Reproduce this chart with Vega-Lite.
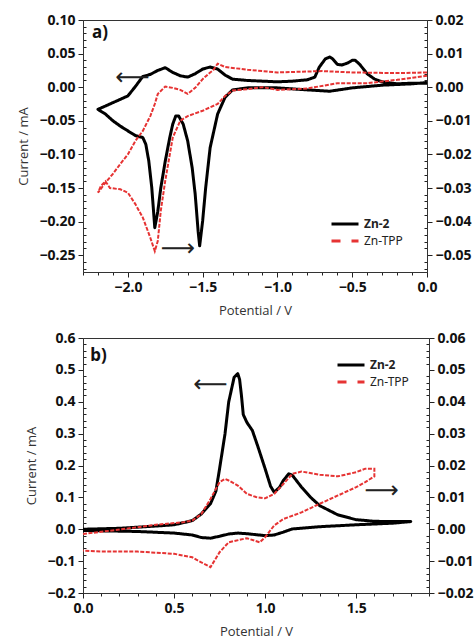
{
  "$schema": "https://vega.github.io/schema/vega-lite/v6.json",
  "padding": {"top": 12, "left": 17, "right": 0, "bottom": 0},
  "background": "white",
  "datasets": {
    "cv": [
      {"panel":"a","series":"Zn-2","order":1,"potential":0.00,"current":0.006},
      {"panel":"a","series":"Zn-2","order":2,"potential":-0.10,"current":0.006},
      {"panel":"a","series":"Zn-2","order":3,"potential":-0.20,"current":0.005},
      {"panel":"a","series":"Zn-2","order":4,"potential":-0.30,"current":0.008},
      {"panel":"a","series":"Zn-2","order":5,"potential":-0.35,"current":0.012},
      {"panel":"a","series":"Zn-2","order":6,"potential":-0.40,"current":0.020},
      {"panel":"a","series":"Zn-2","order":7,"potential":-0.45,"current":0.034},
      {"panel":"a","series":"Zn-2","order":8,"potential":-0.48,"current":0.040},
      {"panel":"a","series":"Zn-2","order":9,"potential":-0.50,"current":0.040},
      {"panel":"a","series":"Zn-2","order":10,"potential":-0.53,"current":0.036},
      {"panel":"a","series":"Zn-2","order":11,"potential":-0.57,"current":0.033},
      {"panel":"a","series":"Zn-2","order":12,"potential":-0.60,"current":0.034},
      {"panel":"a","series":"Zn-2","order":13,"potential":-0.63,"current":0.042},
      {"panel":"a","series":"Zn-2","order":14,"potential":-0.65,"current":0.045},
      {"panel":"a","series":"Zn-2","order":15,"potential":-0.68,"current":0.042},
      {"panel":"a","series":"Zn-2","order":16,"potential":-0.72,"current":0.030},
      {"panel":"a","series":"Zn-2","order":17,"potential":-0.75,"current":0.015},
      {"panel":"a","series":"Zn-2","order":18,"potential":-0.80,"current":0.011},
      {"panel":"a","series":"Zn-2","order":19,"potential":-0.90,"current":0.009},
      {"panel":"a","series":"Zn-2","order":20,"potential":-1.00,"current":0.008},
      {"panel":"a","series":"Zn-2","order":21,"potential":-1.10,"current":0.009},
      {"panel":"a","series":"Zn-2","order":22,"potential":-1.20,"current":0.010},
      {"panel":"a","series":"Zn-2","order":23,"potential":-1.30,"current":0.012},
      {"panel":"a","series":"Zn-2","order":24,"potential":-1.35,"current":0.018},
      {"panel":"a","series":"Zn-2","order":25,"potential":-1.40,"current":0.027},
      {"panel":"a","series":"Zn-2","order":26,"potential":-1.45,"current":0.030},
      {"panel":"a","series":"Zn-2","order":27,"potential":-1.50,"current":0.027},
      {"panel":"a","series":"Zn-2","order":28,"potential":-1.55,"current":0.020},
      {"panel":"a","series":"Zn-2","order":29,"potential":-1.60,"current":0.015},
      {"panel":"a","series":"Zn-2","order":30,"potential":-1.65,"current":0.017},
      {"panel":"a","series":"Zn-2","order":31,"potential":-1.70,"current":0.022},
      {"panel":"a","series":"Zn-2","order":32,"potential":-1.75,"current":0.029},
      {"panel":"a","series":"Zn-2","order":33,"potential":-1.80,"current":0.025},
      {"panel":"a","series":"Zn-2","order":34,"potential":-1.85,"current":0.019},
      {"panel":"a","series":"Zn-2","order":35,"potential":-1.90,"current":0.016},
      {"panel":"a","series":"Zn-2","order":36,"potential":-1.95,"current":0.001},
      {"panel":"a","series":"Zn-2","order":37,"potential":-2.00,"current":-0.013},
      {"panel":"a","series":"Zn-2","order":38,"potential":-2.10,"current":-0.023},
      {"panel":"a","series":"Zn-2","order":39,"potential":-2.15,"current":-0.028},
      {"panel":"a","series":"Zn-2","order":40,"potential":-2.20,"current":-0.033},
      {"panel":"a","series":"Zn-2","order":41,"potential":-2.15,"current":-0.040},
      {"panel":"a","series":"Zn-2","order":42,"potential":-2.10,"current":-0.050},
      {"panel":"a","series":"Zn-2","order":43,"potential":-2.05,"current":-0.058},
      {"panel":"a","series":"Zn-2","order":44,"potential":-2.00,"current":-0.065},
      {"panel":"a","series":"Zn-2","order":45,"potential":-1.95,"current":-0.072},
      {"panel":"a","series":"Zn-2","order":46,"potential":-1.90,"current":-0.075},
      {"panel":"a","series":"Zn-2","order":47,"potential":-1.88,"current":-0.085},
      {"panel":"a","series":"Zn-2","order":48,"potential":-1.86,"current":-0.110},
      {"panel":"a","series":"Zn-2","order":49,"potential":-1.84,"current":-0.150},
      {"panel":"a","series":"Zn-2","order":50,"potential":-1.82,"current":-0.209},
      {"panel":"a","series":"Zn-2","order":51,"potential":-1.80,"current":-0.185},
      {"panel":"a","series":"Zn-2","order":52,"potential":-1.78,"current":-0.150},
      {"panel":"a","series":"Zn-2","order":53,"potential":-1.75,"current":-0.110},
      {"panel":"a","series":"Zn-2","order":54,"potential":-1.72,"current":-0.075},
      {"panel":"a","series":"Zn-2","order":55,"potential":-1.70,"current":-0.055},
      {"panel":"a","series":"Zn-2","order":56,"potential":-1.68,"current":-0.043},
      {"panel":"a","series":"Zn-2","order":57,"potential":-1.66,"current":-0.043},
      {"panel":"a","series":"Zn-2","order":58,"potential":-1.63,"current":-0.055},
      {"panel":"a","series":"Zn-2","order":59,"potential":-1.60,"current":-0.080},
      {"panel":"a","series":"Zn-2","order":60,"potential":-1.57,"current":-0.120},
      {"panel":"a","series":"Zn-2","order":61,"potential":-1.55,"current":-0.159},
      {"panel":"a","series":"Zn-2","order":62,"potential":-1.53,"current":-0.215},
      {"panel":"a","series":"Zn-2","order":63,"potential":-1.52,"current":-0.236},
      {"panel":"a","series":"Zn-2","order":64,"potential":-1.50,"current":-0.199},
      {"panel":"a","series":"Zn-2","order":65,"potential":-1.48,"current":-0.150},
      {"panel":"a","series":"Zn-2","order":66,"potential":-1.45,"current":-0.090},
      {"panel":"a","series":"Zn-2","order":67,"potential":-1.40,"current":-0.040},
      {"panel":"a","series":"Zn-2","order":68,"potential":-1.35,"current":-0.015},
      {"panel":"a","series":"Zn-2","order":69,"potential":-1.30,"current":-0.004},
      {"panel":"a","series":"Zn-2","order":70,"potential":-1.20,"current":-0.001},
      {"panel":"a","series":"Zn-2","order":71,"potential":-1.00,"current":-0.001},
      {"panel":"a","series":"Zn-2","order":72,"potential":-0.80,"current":-0.004},
      {"panel":"a","series":"Zn-2","order":73,"potential":-0.65,"current":-0.006},
      {"panel":"a","series":"Zn-2","order":74,"potential":-0.50,"current":-0.001},
      {"panel":"a","series":"Zn-2","order":75,"potential":-0.30,"current":0.003},
      {"panel":"a","series":"Zn-2","order":76,"potential":-0.10,"current":0.005},
      {"panel":"a","series":"Zn-2","order":77,"potential":0.00,"current":0.007},

      {"panel":"a","series":"Zn-TPP","order":1,"potential":0.00,"current":0.0044},
      {"panel":"a","series":"Zn-TPP","order":2,"potential":-0.20,"current":0.0042},
      {"panel":"a","series":"Zn-TPP","order":3,"potential":-0.50,"current":0.0044},
      {"panel":"a","series":"Zn-TPP","order":4,"potential":-0.70,"current":0.0048},
      {"panel":"a","series":"Zn-TPP","order":5,"potential":-1.00,"current":0.0044},
      {"panel":"a","series":"Zn-TPP","order":6,"potential":-1.20,"current":0.0052},
      {"panel":"a","series":"Zn-TPP","order":7,"potential":-1.35,"current":0.0060},
      {"panel":"a","series":"Zn-TPP","order":8,"potential":-1.40,"current":0.0070},
      {"panel":"a","series":"Zn-TPP","order":9,"potential":-1.43,"current":0.0050},
      {"panel":"a","series":"Zn-TPP","order":10,"potential":-1.45,"current":0.0044},
      {"panel":"a","series":"Zn-TPP","order":11,"potential":-1.50,"current":0.0024},
      {"panel":"a","series":"Zn-TPP","order":12,"potential":-1.55,"current":-0.0002},
      {"panel":"a","series":"Zn-TPP","order":13,"potential":-1.60,"current":-0.0020},
      {"panel":"a","series":"Zn-TPP","order":14,"potential":-1.65,"current":-0.0008},
      {"panel":"a","series":"Zn-TPP","order":15,"potential":-1.70,"current":-0.0002},
      {"panel":"a","series":"Zn-TPP","order":16,"potential":-1.75,"current":0.0002},
      {"panel":"a","series":"Zn-TPP","order":17,"potential":-1.80,"current":-0.0020},
      {"panel":"a","series":"Zn-TPP","order":18,"potential":-1.82,"current":-0.0050},
      {"panel":"a","series":"Zn-TPP","order":19,"potential":-1.85,"current":-0.0086},
      {"panel":"a","series":"Zn-TPP","order":20,"potential":-1.90,"current":-0.0130},
      {"panel":"a","series":"Zn-TPP","order":21,"potential":-1.95,"current":-0.0160},
      {"panel":"a","series":"Zn-TPP","order":22,"potential":-2.00,"current":-0.0200},
      {"panel":"a","series":"Zn-TPP","order":23,"potential":-2.05,"current":-0.0228},
      {"panel":"a","series":"Zn-TPP","order":24,"potential":-2.10,"current":-0.0258},
      {"panel":"a","series":"Zn-TPP","order":25,"potential":-2.15,"current":-0.0284},
      {"panel":"a","series":"Zn-TPP","order":26,"potential":-2.20,"current":-0.0314},
      {"panel":"a","series":"Zn-TPP","order":27,"potential":-2.18,"current":-0.0294},
      {"panel":"a","series":"Zn-TPP","order":28,"potential":-2.15,"current":-0.0280},
      {"panel":"a","series":"Zn-TPP","order":29,"potential":-2.12,"current":-0.0300},
      {"panel":"a","series":"Zn-TPP","order":30,"potential":-2.05,"current":-0.0304},
      {"panel":"a","series":"Zn-TPP","order":31,"potential":-2.00,"current":-0.0314},
      {"panel":"a","series":"Zn-TPP","order":32,"potential":-1.95,"current":-0.0348},
      {"panel":"a","series":"Zn-TPP","order":33,"potential":-1.90,"current":-0.0388},
      {"panel":"a","series":"Zn-TPP","order":34,"potential":-1.85,"current":-0.0448},
      {"panel":"a","series":"Zn-TPP","order":35,"potential":-1.82,"current":-0.0488},
      {"panel":"a","series":"Zn-TPP","order":36,"potential":-1.80,"current":-0.0458},
      {"panel":"a","series":"Zn-TPP","order":37,"potential":-1.78,"current":-0.0368},
      {"panel":"a","series":"Zn-TPP","order":38,"potential":-1.75,"current":-0.0278},
      {"panel":"a","series":"Zn-TPP","order":39,"potential":-1.70,"current":-0.0150},
      {"panel":"a","series":"Zn-TPP","order":40,"potential":-1.65,"current":-0.0100},
      {"panel":"a","series":"Zn-TPP","order":41,"potential":-1.60,"current":-0.0086},
      {"panel":"a","series":"Zn-TPP","order":42,"potential":-1.50,"current":-0.0070},
      {"panel":"a","series":"Zn-TPP","order":43,"potential":-1.45,"current":-0.0060},
      {"panel":"a","series":"Zn-TPP","order":44,"potential":-1.40,"current":-0.0050},
      {"panel":"a","series":"Zn-TPP","order":45,"potential":-1.35,"current":-0.0026},
      {"panel":"a","series":"Zn-TPP","order":46,"potential":-1.30,"current":-0.0010},
      {"panel":"a","series":"Zn-TPP","order":47,"potential":-1.20,"current":-0.0006},
      {"panel":"a","series":"Zn-TPP","order":48,"potential":-1.10,"current":0.0000},
      {"panel":"a","series":"Zn-TPP","order":49,"potential":-1.00,"current":-0.0008},
      {"panel":"a","series":"Zn-TPP","order":50,"potential":-0.80,"current":-0.0004},
      {"panel":"a","series":"Zn-TPP","order":51,"potential":-0.60,"current":0.0012},
      {"panel":"a","series":"Zn-TPP","order":52,"potential":-0.40,"current":0.0012},
      {"panel":"a","series":"Zn-TPP","order":53,"potential":-0.20,"current":0.0022},
      {"panel":"a","series":"Zn-TPP","order":54,"potential":0.00,"current":0.0034},

      {"panel":"b","series":"Zn-2","order":1,"potential":0.00,"current":0.000},
      {"panel":"b","series":"Zn-2","order":2,"potential":0.20,"current":0.003},
      {"panel":"b","series":"Zn-2","order":3,"potential":0.40,"current":0.010},
      {"panel":"b","series":"Zn-2","order":4,"potential":0.50,"current":0.014},
      {"panel":"b","series":"Zn-2","order":5,"potential":0.60,"current":0.027},
      {"panel":"b","series":"Zn-2","order":6,"potential":0.65,"current":0.048},
      {"panel":"b","series":"Zn-2","order":7,"potential":0.70,"current":0.080},
      {"panel":"b","series":"Zn-2","order":8,"potential":0.73,"current":0.120},
      {"panel":"b","series":"Zn-2","order":9,"potential":0.75,"current":0.190},
      {"panel":"b","series":"Zn-2","order":10,"potential":0.78,"current":0.300},
      {"panel":"b","series":"Zn-2","order":11,"potential":0.80,"current":0.399},
      {"panel":"b","series":"Zn-2","order":12,"potential":0.83,"current":0.477},
      {"panel":"b","series":"Zn-2","order":13,"potential":0.85,"current":0.488},
      {"panel":"b","series":"Zn-2","order":14,"potential":0.86,"current":0.470},
      {"panel":"b","series":"Zn-2","order":15,"potential":0.87,"current":0.420},
      {"panel":"b","series":"Zn-2","order":16,"potential":0.88,"current":0.360},
      {"panel":"b","series":"Zn-2","order":17,"potential":0.90,"current":0.335},
      {"panel":"b","series":"Zn-2","order":18,"potential":0.93,"current":0.310},
      {"panel":"b","series":"Zn-2","order":19,"potential":0.96,"current":0.260},
      {"panel":"b","series":"Zn-2","order":20,"potential":1.00,"current":0.190},
      {"panel":"b","series":"Zn-2","order":21,"potential":1.03,"current":0.135},
      {"panel":"b","series":"Zn-2","order":22,"potential":1.05,"current":0.116},
      {"panel":"b","series":"Zn-2","order":23,"potential":1.08,"current":0.132},
      {"panel":"b","series":"Zn-2","order":24,"potential":1.10,"current":0.153},
      {"panel":"b","series":"Zn-2","order":25,"potential":1.13,"current":0.174},
      {"panel":"b","series":"Zn-2","order":26,"potential":1.15,"current":0.169},
      {"panel":"b","series":"Zn-2","order":27,"potential":1.20,"current":0.132},
      {"panel":"b","series":"Zn-2","order":28,"potential":1.25,"current":0.100},
      {"panel":"b","series":"Zn-2","order":29,"potential":1.30,"current":0.074},
      {"panel":"b","series":"Zn-2","order":30,"potential":1.40,"current":0.045},
      {"panel":"b","series":"Zn-2","order":31,"potential":1.50,"current":0.030},
      {"panel":"b","series":"Zn-2","order":32,"potential":1.60,"current":0.025},
      {"panel":"b","series":"Zn-2","order":33,"potential":1.70,"current":0.024},
      {"panel":"b","series":"Zn-2","order":34,"potential":1.80,"current":0.024},
      {"panel":"b","series":"Zn-2","order":35,"potential":1.70,"current":0.019},
      {"panel":"b","series":"Zn-2","order":36,"potential":1.50,"current":0.014},
      {"panel":"b","series":"Zn-2","order":37,"potential":1.30,"current":0.008},
      {"panel":"b","series":"Zn-2","order":38,"potential":1.15,"current":0.001},
      {"panel":"b","series":"Zn-2","order":39,"potential":1.10,"current":-0.009},
      {"panel":"b","series":"Zn-2","order":40,"potential":1.05,"current":-0.018},
      {"panel":"b","series":"Zn-2","order":41,"potential":1.00,"current":-0.020},
      {"panel":"b","series":"Zn-2","order":42,"potential":0.95,"current":-0.017},
      {"panel":"b","series":"Zn-2","order":43,"potential":0.90,"current":-0.014},
      {"panel":"b","series":"Zn-2","order":44,"potential":0.85,"current":-0.012},
      {"panel":"b","series":"Zn-2","order":45,"potential":0.80,"current":-0.015},
      {"panel":"b","series":"Zn-2","order":46,"potential":0.75,"current":-0.022},
      {"panel":"b","series":"Zn-2","order":47,"potential":0.70,"current":-0.028},
      {"panel":"b","series":"Zn-2","order":48,"potential":0.65,"current":-0.026},
      {"panel":"b","series":"Zn-2","order":49,"potential":0.60,"current":-0.018},
      {"panel":"b","series":"Zn-2","order":50,"potential":0.50,"current":-0.012},
      {"panel":"b","series":"Zn-2","order":51,"potential":0.30,"current":-0.007},
      {"panel":"b","series":"Zn-2","order":52,"potential":0.00,"current":-0.004},

      {"panel":"b","series":"Zn-TPP","order":1,"potential":0.00,"current":-0.0015},
      {"panel":"b","series":"Zn-TPP","order":2,"potential":0.20,"current":-0.0001},
      {"panel":"b","series":"Zn-TPP","order":3,"potential":0.40,"current":0.0014},
      {"panel":"b","series":"Zn-TPP","order":4,"potential":0.55,"current":0.0022},
      {"panel":"b","series":"Zn-TPP","order":5,"potential":0.60,"current":0.0027},
      {"panel":"b","series":"Zn-TPP","order":6,"potential":0.65,"current":0.0048},
      {"panel":"b","series":"Zn-TPP","order":7,"potential":0.70,"current":0.0095},
      {"panel":"b","series":"Zn-TPP","order":8,"potential":0.75,"current":0.0148},
      {"panel":"b","series":"Zn-TPP","order":9,"potential":0.78,"current":0.0158},
      {"panel":"b","series":"Zn-TPP","order":10,"potential":0.80,"current":0.0153},
      {"panel":"b","series":"Zn-TPP","order":11,"potential":0.85,"current":0.0137},
      {"panel":"b","series":"Zn-TPP","order":12,"potential":0.90,"current":0.0111},
      {"panel":"b","series":"Zn-TPP","order":13,"potential":0.95,"current":0.0101},
      {"panel":"b","series":"Zn-TPP","order":14,"potential":1.00,"current":0.0097},
      {"panel":"b","series":"Zn-TPP","order":15,"potential":1.05,"current":0.0111},
      {"panel":"b","series":"Zn-TPP","order":16,"potential":1.10,"current":0.0142},
      {"panel":"b","series":"Zn-TPP","order":17,"potential":1.15,"current":0.0174},
      {"panel":"b","series":"Zn-TPP","order":18,"potential":1.20,"current":0.0181},
      {"panel":"b","series":"Zn-TPP","order":19,"potential":1.30,"current":0.0171},
      {"panel":"b","series":"Zn-TPP","order":20,"potential":1.40,"current":0.0166},
      {"panel":"b","series":"Zn-TPP","order":21,"potential":1.50,"current":0.0179},
      {"panel":"b","series":"Zn-TPP","order":22,"potential":1.55,"current":0.0190},
      {"panel":"b","series":"Zn-TPP","order":23,"potential":1.60,"current":0.0190},
      {"panel":"b","series":"Zn-TPP","order":24,"potential":1.60,"current":0.0166},
      {"panel":"b","series":"Zn-TPP","order":25,"potential":1.55,"current":0.0148},
      {"panel":"b","series":"Zn-TPP","order":26,"potential":1.50,"current":0.0132},
      {"panel":"b","series":"Zn-TPP","order":27,"potential":1.40,"current":0.0106},
      {"panel":"b","series":"Zn-TPP","order":28,"potential":1.30,"current":0.0080},
      {"panel":"b","series":"Zn-TPP","order":29,"potential":1.20,"current":0.0053},
      {"panel":"b","series":"Zn-TPP","order":30,"potential":1.10,"current":0.0032},
      {"panel":"b","series":"Zn-TPP","order":31,"potential":1.05,"current":0.0012},
      {"panel":"b","series":"Zn-TPP","order":32,"potential":1.00,"current":-0.0025},
      {"panel":"b","series":"Zn-TPP","order":33,"potential":0.97,"current":-0.0041},
      {"panel":"b","series":"Zn-TPP","order":34,"potential":0.90,"current":-0.0028},
      {"panel":"b","series":"Zn-TPP","order":35,"potential":0.80,"current":-0.0041},
      {"panel":"b","series":"Zn-TPP","order":36,"potential":0.75,"current":-0.0072},
      {"panel":"b","series":"Zn-TPP","order":37,"potential":0.70,"current":-0.0119},
      {"panel":"b","series":"Zn-TPP","order":38,"potential":0.65,"current":-0.0104},
      {"panel":"b","series":"Zn-TPP","order":39,"potential":0.60,"current":-0.0088},
      {"panel":"b","series":"Zn-TPP","order":40,"potential":0.50,"current":-0.0077},
      {"panel":"b","series":"Zn-TPP","order":41,"potential":0.30,"current":-0.0070},
      {"panel":"b","series":"Zn-TPP","order":42,"potential":0.10,"current":-0.0070},
      {"panel":"b","series":"Zn-TPP","order":43,"potential":0.00,"current":-0.0067}
    ],
    "arrows": [
      {"panel":"a","label":"⟵","potential":-1.97,"current":0.0136},
      {"panel":"a","label":"⟶","potential":-1.665,"current":-0.241},
      {"panel":"b","label":"⟵","potential":0.70,"current":0.452},
      {"panel":"b","label":"⟶","potential":1.64,"current":0.121}
    ],
    "tags": [
      {"panel":"a","label":"a)","potential":-2.24,"current":0.016},
      {"panel":"b","label":"b)","potential":0.04,"current":0.0545}
    ]
  },
  "vconcat": [
    {
      "width": 344,
      "height": 252,
      "encoding": {
        "x": {"field": "potential", "type": "quantitative", "scale": {"domain": [-2.3, 0], "nice": false, "zero": false},
              "axis": {"title": "Potential / V", "ticks": true, "tickCount": 500, "values": [-2.3, -2.2, -2.1, -2.0, -1.9, -1.8, -1.7, -1.6, -1.5, -1.4, -1.3, -1.2, -1.1, -1.0, -0.9, -0.8, -0.7, -0.6, -0.5, -0.4, -0.3, -0.2, -0.1, 0],
                       "labelExpr": "abs(datum.value*2 - round(datum.value*2)) < 0.001 ? format(datum.value, '.1f') : ''",
                       "tickSize": {"condition": {"test": "abs(datum.value*2 - round(datum.value*2)) < 0.001", "value": 5}, "value": 3},
                       "grid": false, "titlePadding": 10}}
      },
      "layer": [
        {
          "data": {"name": "cv"},
          "transform": [{"filter": "datum.panel === 'a' && datum.series === 'Zn-2'"}],
          "mark": {"type": "line", "strokeWidth": 3, "strokeJoin": "round"},
          "encoding": {
            "y": {"field": "current", "type": "quantitative", "scale": {"domain": [-0.275, 0.1], "nice": false, "zero": false},
                  "axis": {"orient": "left", "title": "Current / mA", "ticks": true, "tickCount": 500,
                           "values": [-0.27, -0.26, -0.25, -0.24, -0.23, -0.22, -0.21, -0.2, -0.19, -0.18, -0.17, -0.16, -0.15, -0.14, -0.13, -0.12, -0.11, -0.1, -0.09, -0.08, -0.07, -0.06, -0.05, -0.04, -0.03, -0.02, -0.01, 0, 0.01, 0.02, 0.03, 0.04, 0.05, 0.06, 0.07, 0.08, 0.09, 0.1],
                           "labelExpr": "abs(datum.value*20 - round(datum.value*20)) < 0.001 ? format(datum.value, '.2f') : ''",
                           "tickSize": {"condition": {"test": "abs(datum.value*20 - round(datum.value*20)) < 0.001", "value": 5}, "value": -3},
                           "grid": false, "titlePadding": 8}},
            "order": {"field": "order", "type": "quantitative"},
            "color": {"field": "series", "type": "nominal", "scale": {"domain": ["Zn-2", "Zn-TPP"], "range": ["#000000", "#e63333"]},
                      "legend": {"title": null, "orient": "bottom-right", "offset": 24,
                                 "encode": {"labels": {"update": {"fontWeight": {"signal": "datum.label === 'Zn-2' ? 'bold' : 'normal'"}}}}}},
            "strokeDash": {"field": "series", "type": "nominal", "scale": {"domain": ["Zn-2", "Zn-TPP"], "range": [[1, 0], [9, 11]]},
                      "legend": {"title": null, "orient": "bottom-right", "offset": 24}}
          }
        },
        {
          "data": {"name": "cv"},
          "transform": [{"filter": "datum.panel === 'a' && datum.series === 'Zn-TPP'"}],
          "mark": {"type": "line", "strokeWidth": 2, "strokeDash": [4, 1.5]},
          "encoding": {
            "y": {"field": "current", "type": "quantitative", "scale": {"domain": [-0.055, 0.02], "nice": false, "zero": false},
                  "axis": {"orient": "right", "title": null, "ticks": true, "tickCount": 500,
                           "values": [-0.054, -0.052, -0.05, -0.048, -0.046, -0.044, -0.042, -0.04, -0.038, -0.036, -0.034, -0.032, -0.03, -0.028, -0.026, -0.024, -0.022, -0.02, -0.018, -0.016, -0.014, -0.012, -0.01, -0.008, -0.006, -0.004, -0.002, 0, 0.002, 0.004, 0.006, 0.008, 0.01, 0.012, 0.014, 0.016, 0.018, 0.02],
                           "labelExpr": "abs(datum.value*100 - round(datum.value*100)) < 0.001 ? format(datum.value, '.2f') : ''",
                           "tickSize": {"condition": {"test": "abs(datum.value*100 - round(datum.value*100)) < 0.001", "value": 5}, "value": -3},
                           "grid": false}},
            "order": {"field": "order", "type": "quantitative"},
            "color": {"field": "series", "type": "nominal", "legend": {"title": null, "orient": "bottom-right", "offset": 24,
                                 "encode": {"labels": {"update": {"fontWeight": {"signal": "datum.label === 'Zn-2' ? 'bold' : 'normal'"}}}}}}
          }
        },
        {
          "data": {"name": "arrows"},
          "transform": [{"filter": "datum.panel === 'a'"}],
          "mark": {"type": "text", "font": "DejaVu Sans", "fontSize": 24, "color": "#222"},
          "encoding": {
            "y": {"field": "current", "type": "quantitative", "scale": {"domain": [-0.275, 0.1], "nice": false, "zero": false}, "axis": null},
            "text": {"field": "label"}
          }
        },
        {
          "data": {"name": "tags"},
          "transform": [{"filter": "datum.panel === 'a'"}],
          "mark": {"type": "text", "font": "Noto Sans", "fontSize": 17, "fontWeight": "bold", "align": "left", "color": "#111"},
          "encoding": {
            "y": {"field": "current", "type": "quantitative", "scale": {"domain": [-0.055, 0.02], "nice": false, "zero": false}, "axis": null},
            "text": {"field": "label"}
          }
        }
      ],
      "resolve": {"scale": {"y": "independent"}}
    },
    {
      "width": 346,
      "height": 255,
      "encoding": {
        "x": {"field": "potential", "type": "quantitative", "scale": {"domain": [0, 1.9], "nice": false, "zero": false},
              "axis": {"title": "Potential / V", "ticks": true, "tickCount": 500, "values": [0, 0.1, 0.2, 0.3, 0.4, 0.5, 0.6, 0.7, 0.8, 0.9, 1.0, 1.1, 1.2, 1.3, 1.4, 1.5, 1.6, 1.7, 1.8, 1.9],
                       "labelExpr": "abs(datum.value*2 - round(datum.value*2)) < 0.001 ? format(datum.value, '.1f') : ''",
                       "tickSize": {"condition": {"test": "abs(datum.value*2 - round(datum.value*2)) < 0.001", "value": 5}, "value": 3},
                       "grid": false, "titlePadding": 10}}
      },
      "layer": [
        {
          "data": {"name": "cv"},
          "transform": [{"filter": "datum.panel === 'b' && datum.series === 'Zn-2'"}],
          "mark": {"type": "line", "strokeWidth": 3, "strokeJoin": "round"},
          "encoding": {
            "y": {"field": "current", "type": "quantitative", "scale": {"domain": [-0.2, 0.6], "nice": false, "zero": false},
                  "axis": {"orient": "left", "title": "Current / mA", "ticks": true, "tickCount": 500,
                           "values": [-0.2, -0.18, -0.16, -0.14, -0.12, -0.1, -0.08, -0.06, -0.04, -0.02, 0, 0.02, 0.04, 0.06, 0.08, 0.1, 0.12, 0.14, 0.16, 0.18, 0.2, 0.22, 0.24, 0.26, 0.28, 0.3, 0.32, 0.34, 0.36, 0.38, 0.4, 0.42, 0.44, 0.46, 0.48, 0.5, 0.52, 0.54, 0.56, 0.58, 0.6],
                           "labelExpr": "abs(datum.value*10 - round(datum.value*10)) < 0.001 ? format(datum.value, '.1f') : ''",
                           "tickSize": {"condition": {"test": "abs(datum.value*10 - round(datum.value*10)) < 0.001", "value": 5}, "value": -3},
                           "grid": false, "titlePadding": 8}},
            "order": {"field": "order", "type": "quantitative"},
            "color": {"field": "series", "type": "nominal", "scale": {"domain": ["Zn-2", "Zn-TPP"], "range": ["#000000", "#e63333"]},
                      "legend": {"title": null, "orient": "top-right", "offset": 20,
                                 "encode": {"labels": {"update": {"fontWeight": {"signal": "datum.label === 'Zn-2' ? 'bold' : 'normal'"}}}}}},
            "strokeDash": {"field": "series", "type": "nominal", "scale": {"domain": ["Zn-2", "Zn-TPP"], "range": [[1, 0], [9, 11]]},
                      "legend": {"title": null, "orient": "top-right", "offset": 20}}
          }
        },
        {
          "data": {"name": "cv"},
          "transform": [{"filter": "datum.panel === 'b' && datum.series === 'Zn-TPP'"}],
          "mark": {"type": "line", "strokeWidth": 2, "strokeDash": [4, 1.5]},
          "encoding": {
            "y": {"field": "current", "type": "quantitative", "scale": {"domain": [-0.02, 0.06], "nice": false, "zero": false},
                  "axis": {"orient": "right", "title": null, "ticks": true, "tickCount": 500,
                           "values": [-0.02, -0.018, -0.016, -0.014, -0.012, -0.01, -0.008, -0.006, -0.004, -0.002, 0, 0.002, 0.004, 0.006, 0.008, 0.01, 0.012, 0.014, 0.016, 0.018, 0.02, 0.022, 0.024, 0.026, 0.028, 0.03, 0.032, 0.034, 0.036, 0.038, 0.04, 0.042, 0.044, 0.046, 0.048, 0.05, 0.052, 0.054, 0.056, 0.058, 0.06],
                           "labelExpr": "abs(datum.value*100 - round(datum.value*100)) < 0.001 ? format(datum.value, '.2f') : ''",
                           "tickSize": {"condition": {"test": "abs(datum.value*100 - round(datum.value*100)) < 0.001", "value": 5}, "value": -3},
                           "grid": false}},
            "order": {"field": "order", "type": "quantitative"},
            "color": {"field": "series", "type": "nominal", "legend": {"title": null, "orient": "top-right", "offset": 20,
                                 "encode": {"labels": {"update": {"fontWeight": {"signal": "datum.label === 'Zn-2' ? 'bold' : 'normal'"}}}}}}
          }
        },
        {
          "data": {"name": "arrows"},
          "transform": [{"filter": "datum.panel === 'b'"}],
          "mark": {"type": "text", "font": "DejaVu Sans", "fontSize": 24, "color": "#222"},
          "encoding": {
            "y": {"field": "current", "type": "quantitative", "scale": {"domain": [-0.2, 0.6], "nice": false, "zero": false}, "axis": null},
            "text": {"field": "label"}
          }
        },
        {
          "data": {"name": "tags"},
          "transform": [{"filter": "datum.panel === 'b'"}],
          "mark": {"type": "text", "font": "Noto Sans", "fontSize": 17, "fontWeight": "bold", "align": "left", "color": "#111"},
          "encoding": {
            "y": {"field": "current", "type": "quantitative", "scale": {"domain": [-0.02, 0.06], "nice": false, "zero": false}, "axis": null},
            "text": {"field": "label"}
          }
        }
      ],
      "resolve": {"scale": {"y": "independent"}}
    }
  ],
  "spacing": 12,
  "resolve": {"scale": {"color": "independent", "strokeDash": "independent"}},
  "config": {
    "view": {"stroke": "#333", "strokeWidth": 1},
    "axis": {
      "ticks": true, "domainColor": "#333", "tickColor": "#222", "tickWidth": 1, "labelColor": "#111",
      "labelFont": "Noto Sans", "labelFontSize": 14, "labelFontWeight": "bold", "labelPadding": 3,
      "titleFont": "Open Sans", "titleFontSize": 13, "titleFontWeight": "normal", "titleColor": "#333",
      "labelFlush": false, "labelOverlap": false
    },
    "legend": {
      "symbolType": "stroke", "symbolSize": 729, "symbolStrokeWidth": 3, "clipHeight": 14, "rowPadding": 3,
      "labelFont": "Noto Sans", "labelFontSize": 12, "labelFontWeight": "bold", "labelColor": "#222", "labelOffset": 4, "padding": 0
    }
  }
}
